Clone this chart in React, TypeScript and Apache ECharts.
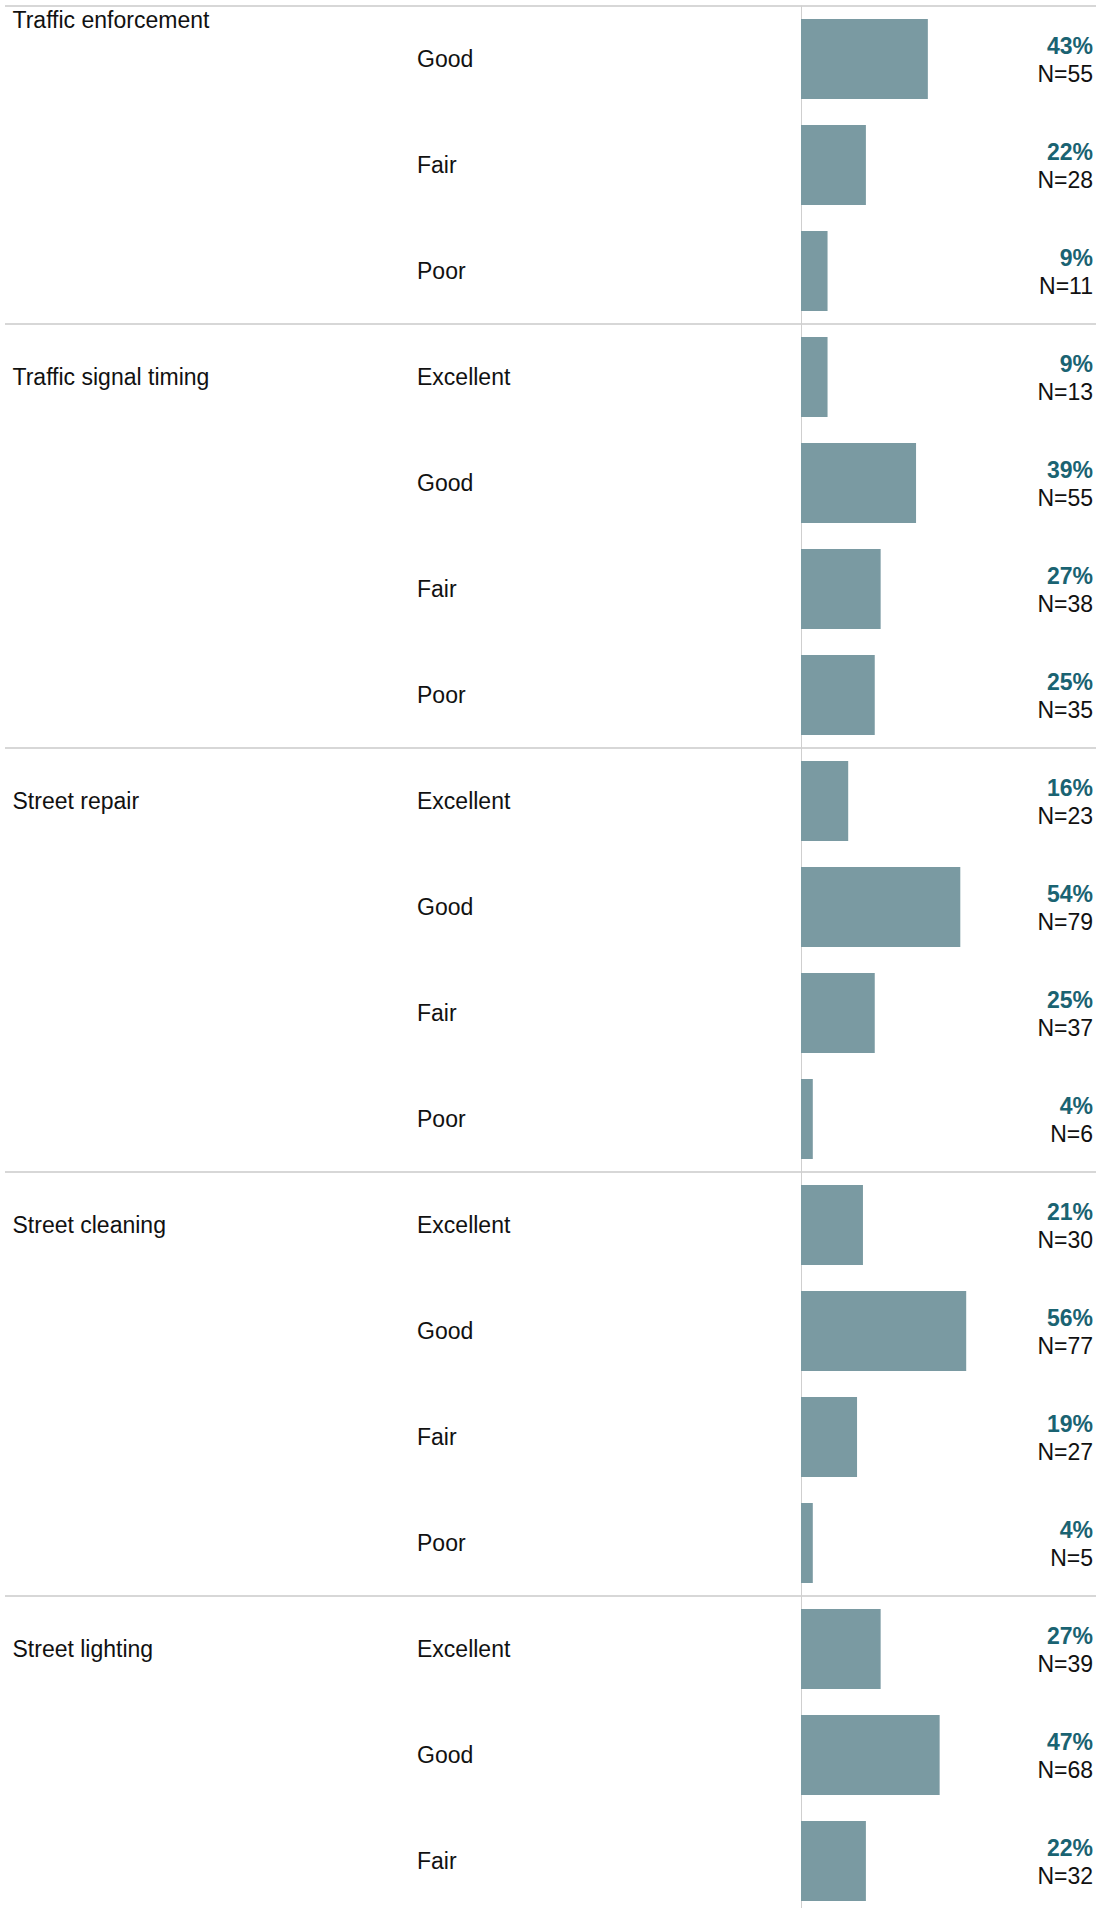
import React, { useEffect, useRef } from "react";
import * as echarts from "echarts";

const groups = [
  "Traffic enforcement",
  "Traffic signal timing",
  "Street repair",
  "Street cleaning",
  "Street lighting",
];
const ratingsByGroup = [
  ["Good", "Fair", "Poor"],
  ["Excellent", "Good", "Fair", "Poor"],
  ["Excellent", "Good", "Fair", "Poor"],
  ["Excellent", "Good", "Fair", "Poor"],
  ["Excellent", "Good", "Fair"],
];
const percentsByGroup = [
  [43, 22, 9],
  [9, 39, 27, 25],
  [16, 54, 25, 4],
  [21, 56, 19, 4],
  [27, 47, 22],
];
const countsByGroup = [
  [55, 28, 11],
  [13, 55, 38, 35],
  [23, 79, 37, 6],
  [30, 77, 27, 5],
  [39, 68, 32],
];

const FONT = "'Liberation Sans', Arial, Helvetica, sans-serif";
const ROW_H = 106;
const AXIS_X = 801;
const BAR_COLOR = "#7a9aa2";
const TEAL = "#1a6372";
const TEXT = "#111111";
const SEP = "#d7d7d7";

type Row = { id: string; group: string; first: boolean; rating: string; pct: number; n: number };

const rows: Row[] = [];
groups.forEach((g, gi) => {
  ratingsByGroup[gi].forEach((r, ri) => {
    rows.push({
      id: gi + "-" + ri,
      group: g,
      first: ri === 0,
      rating: r,
      pct: percentsByGroup[gi][ri],
      n: countsByGroup[gi][ri],
    });
  });
});
const rowIds = rows.map((r) => r.id);
const isGroupStart = (i: number) => !!rows[i] && rows[i].first;

export default function App() {
  const ref = useRef<HTMLDivElement>(null);
  useEffect(() => {
    if (!ref.current) return;
    const chart = echarts.init(ref.current, null, { renderer: "svg" });
    const option: any = {
      animation: false,
      backgroundColor: "#ffffff",
      textStyle: { fontFamily: FONT },
      grid: {
        left: AXIS_X,
        right: 0,
        top: 6,
        height: ROW_H * rows.length,
        containLabel: false,
        outerBoundsMode: "none",
      },
      xAxis: {
        type: "value",
        min: 0,
        max: 100,
        show: false,
      },
      yAxis: [
        {
          type: "category",
          position: "left",
          inverse: true,
          data: rowIds,
          axisLine: { show: true, lineStyle: { color: "#cfcfcf", width: 1 } },
          axisTick: {
            show: true,
            interval: (i: number) => isGroupStart(i),
            length: AXIS_X - 5,
            lineStyle: { color: SEP, width: 2 },
          },
          splitLine: {
            show: true,
            interval: (i: number) => isGroupStart(i),
            lineStyle: { color: SEP, width: 2 },
          },
          axisLabel: {
            interval: 0,
            align: "left",
            margin: AXIS_X - 417,
            fontSize: 23,
            fontFamily: FONT,
            color: TEXT,
            padding: [3.2, 0, 0, 0],
            formatter: (_v: string, i: number) => rows[i].rating,
          },
        },
        {
          type: "category",
          position: "left",
          inverse: true,
          data: rowIds,
          axisLine: { show: false },
          axisTick: { show: false },
          splitLine: { show: false },
          axisLabel: {
            interval: 0,
            align: "left",
            margin: AXIS_X - 12.5,
            fontSize: 23,
            lineHeight: 26,
            fontFamily: FONT,
            color: TEXT,
            padding: [3.2, 0, 0, 0],
            formatter: (_v: string, i: number) => {
              const r = rows[i];
              if (!r.first) return "";
              return i === 0 ? r.group + "\n\n\n" : r.group;
            },
          },
        },
        {
          type: "category",
          position: "right",
          inverse: true,
          data: rowIds,
          axisLine: { show: false },
          axisTick: { show: false },
          splitLine: { show: false },
          axisLabel: {
            interval: 0,
            inside: true,
            align: "right",
            margin: 3,
            padding: [1.2, 0, 0, 0],
            formatter: (_v: string, i: number) =>
              "{p|" + rows[i].pct + "%}\n{n|N=" + rows[i].n + "}",
            rich: {
              p: { fontSize: 23, fontWeight: "bold", color: TEAL, lineHeight: 28, fontFamily: FONT, align: "right" },
              n: { fontSize: 23, color: TEXT, lineHeight: 28, fontFamily: FONT, align: "right" },
            },
          },
        },
      ],
      series: [
        {
          type: "bar",
          yAxisIndex: 0,
          xAxisIndex: 0,
          data: rows.map((r) => r.pct),
          barWidth: 80,
          itemStyle: { color: BAR_COLOR },
          silent: true,
        },
      ],
    };
    chart.setOption(option);
    return () => chart.dispose();
  }, []);
  return (
    <div
      ref={ref}
      style={{ position: "absolute", left: 0, top: 0, width: 1096, height: 1908, overflow: "hidden" }}
    />
  );
}
